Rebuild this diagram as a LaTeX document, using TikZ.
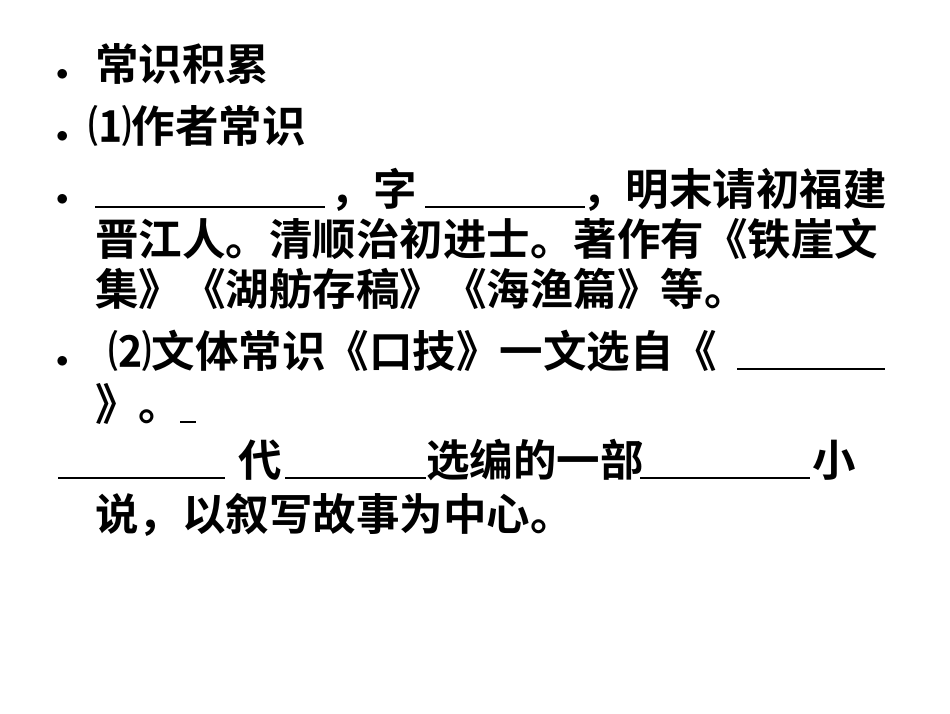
\documentclass[tikz,border=0pt]{standalone}
\usepackage{fontspec}
\newfontfamily\cjk{Noto Sans CJK SC Bold}
\begin{document}
\begin{tikzpicture}[x=1pt,y=-1pt,
  t/.style={anchor=base west,inner sep=0pt,font=\cjk\fontsize{43.5}{48}\selectfont},
  bl/.style={anchor=base west,inner sep=0pt,font=\fontsize{40}{44}\selectfont},
  ul/.style={line width=1.3pt}]
\useasboundingbox[fill=white] (0,0) rectangle (950,713);
\node[bl] (b1) at (56,80) {$\bullet$};
\node[t] (l1) at (95,80) {常识积累};
\node[bl] (b2) at (56,142) {$\bullet$};
\node[t] (l2) at (88,142) {⑴作者常识};
\node[bl] (b3) at (56,205) {$\bullet$};
\coordinate (u1a) at (95,207); \coordinate (u1b) at (325,207);
\draw[ul] (u1a) -- (u1b);
\node[t] (l3a) at (330,205) {，字};
\coordinate (u2a) at (425,207); \coordinate (u2b) at (585,207);
\draw[ul] (u2a) -- (u2b);
\node[t] (l3b) at (582,205) {，明末请初福建};
\node[t] (l4) at (95,255) {晋江人。清顺治初进士。著作有《铁崖文};
\node[t] (l5) at (95,305) {集》《湖舫存稿》《海渔篇》等。};
\node[bl] (b6) at (56,367) {$\bullet$};
\node[t] (l6) at (108,367) {⑵文体常识《口技》一文选自《};
\coordinate (u3a) at (737,369); \coordinate (u3b) at (885,369);
\draw[ul] (u3a) -- (u3b);
\node[t] (l7) at (95,420) {》。};
\coordinate (u4a) at (180,422); \coordinate (u4b) at (196,422);
\draw[ul] (u4a) -- (u4b);
\coordinate (u5a) at (58,478); \coordinate (u5b) at (225,478);
\draw[ul] (u5a) -- (u5b);
\node[t] (l8a) at (238,476) {代};
\coordinate (u6a) at (285,478); \coordinate (u6b) at (426,478);
\draw[ul] (u6a) -- (u6b);
\node[t] (l8b) at (426,476) {选编的一部};
\coordinate (u7a) at (640,478); \coordinate (u7b) at (810,478);
\draw[ul] (u7a) -- (u7b);
\node[t] (l8c) at (812,476) {小};
\node[t] (l9) at (95,530) {说，以叙写故事为中心。};
\end{tikzpicture}
\end{document}
